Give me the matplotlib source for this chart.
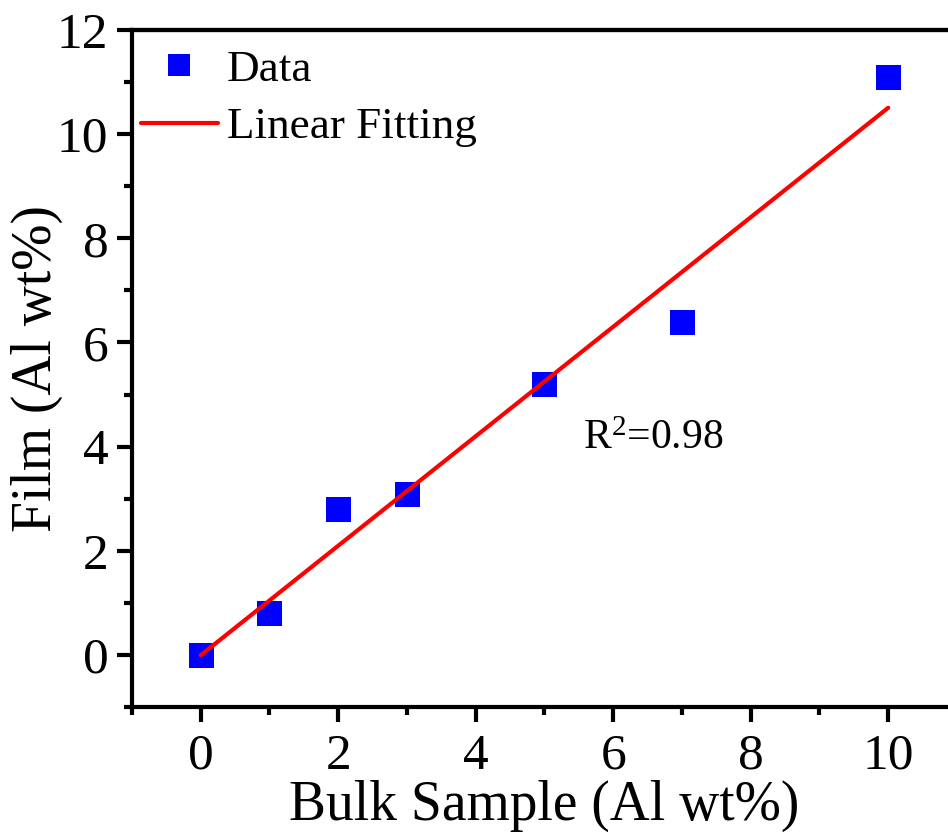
import numpy as np
import matplotlib
matplotlib.use("Agg")
import matplotlib.pyplot as plt
from matplotlib import transforms as mtransforms

bulk = [0, 1, 2, 3, 5, 7, 10]
film = [0, 0.8, 2.8, 3.1, 5.2, 6.4, 11.1]
r2_text = "R$^2$=0.98"

plt.rcParams['font.family'] = ['Liberation Serif', 'DejaVu Serif']
plt.rcParams['mathtext.fontset'] = 'custom'
plt.rcParams['mathtext.rm'] = 'Liberation Serif'
plt.rcParams['mathtext.it'] = 'Liberation Serif'
plt.rcParams['mathtext.default'] = 'regular'

# linear fit of the data
slope, intercept = np.polyfit(bulk, film, 1)
fit_x = np.array([bulk[0], bulk[-1]])
fit_y = slope * fit_x + intercept

fig = plt.figure(figsize=(9.48, 8.32), dpi=100)
ax = fig.add_axes([0.1392, 0.1502, 0.8703, 0.8137])

ax.plot(bulk, film, 's', color='#0000ff', markersize=18, markeredgewidth=0, label='Data', zorder=2)
ax.plot(fit_x, fit_y, '-', color='#ff0000', linewidth=3, label='Linear Fitting', solid_capstyle='round', zorder=3)

ax.set_xlim(-1, 11)
ax.set_ylim(-1, 12)
ax.set_xticks([0, 2, 4, 6, 8, 10])
ax.set_xticks([-1, 1, 3, 5, 7, 9], minor=True)
ax.set_yticks([0, 2, 4, 6, 8, 10, 12])
ax.set_yticks([-1, 1, 3, 5, 7, 9, 11], minor=True)

for s in ax.spines.values():
    s.set_linewidth(3)

# top frame line, drawn at figure level so it runs to the cropped right edge
top_tr = mtransforms.blended_transform_factory(fig.transFigure, ax.transAxes)
fig.add_artist(plt.Line2D([ax.get_position().x0, 1.0], [1, 1], color='black', linewidth=3,
                          transform=top_tr, solid_capstyle='projecting', zorder=10))

ax.tick_params(which='major', direction='out', length=11, width=3, labelsize=37)
ax.tick_params(axis='x', which='major', pad=8)
ax.tick_params(axis='y', which='major', pad=6)
ax.tick_params(which='minor', direction='out', length=6, width=3)

ax.set_xlabel('Bulk Sample (Al wt%)', fontsize=40)
ax.set_ylabel('Film (Al wt%)', fontsize=40)
ax.xaxis.set_label_coords(0.5, -0.108)
ax.yaxis.set_label_coords(-0.084, 0.5)

ax.text(5.56, 4.15, r2_text, fontsize=30, ha='left', va='center')

ax.legend(loc='upper left', bbox_to_anchor=(-0.022, 1.012), frameon=False, fontsize=32.5,
          handlelength=1.7, handletextpad=0.2, labelspacing=0.38, borderaxespad=0.2,
          markerscale=0.9, numpoints=1)

fig.savefig('out.png', dpi=100)
